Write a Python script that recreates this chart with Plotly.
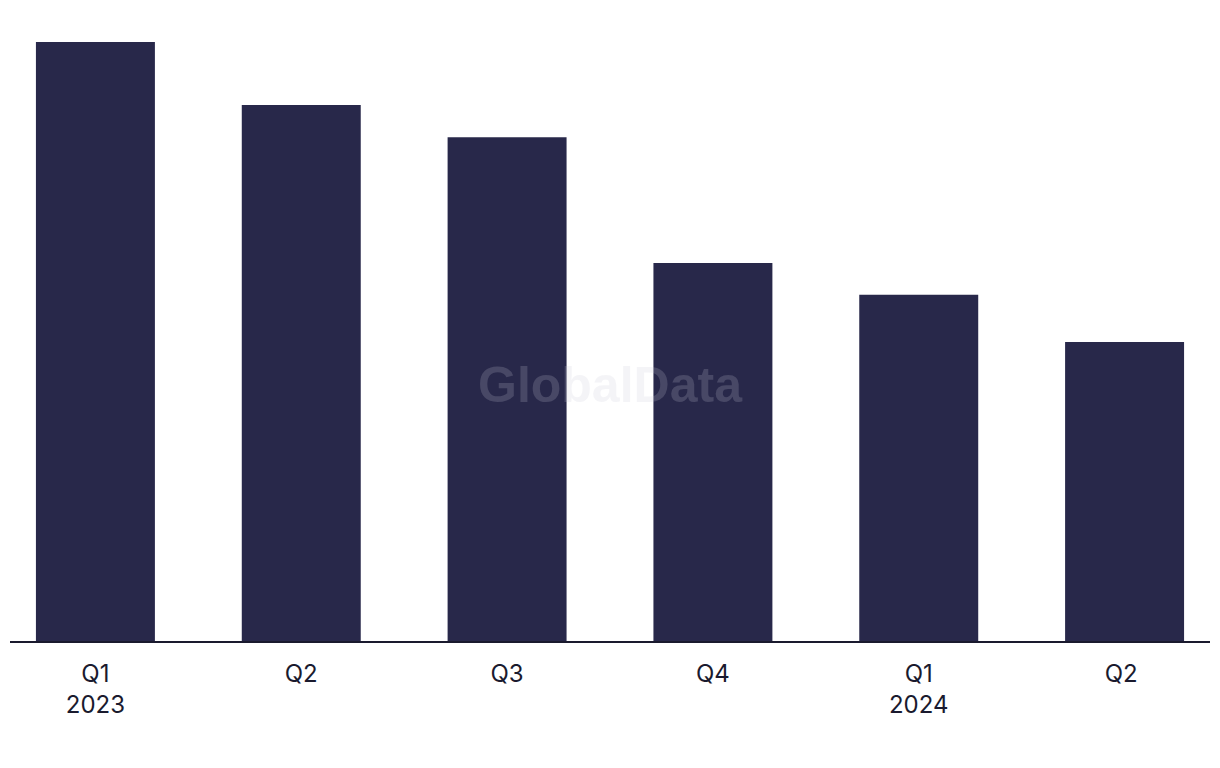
import plotly.graph_objects as go

# quarterly values (relative units)
quarters = ["Q1<br>2023", "Q2", "Q3", "Q4", "Q1<br>2024", "Q2 "]
values = [100.0, 89.5, 84.1, 63.1, 57.8, 49.9]

BAR_COLOR = "#28284a"

fig = go.Figure(
    go.Bar(
        x=quarters,
        y=values,
        marker=dict(color=BAR_COLOR, line=dict(width=0)),
        width=0.578,
        hoverinfo="skip",
    )
)

# page body adds an 8px offset, margins compensate for it
fig.update_layout(
    width=1220,
    height=768,
    margin=dict(l=2, r=18, t=22, b=135),
    plot_bgcolor="white",
    paper_bgcolor="white",
    showlegend=False,
    font=dict(family="Inter, Liberation Sans, Arial, sans-serif", color="#1a1a2e"),
    xaxis=dict(
        range=[-0.415, 5.415],
        showgrid=False,
        showline=True,
        linecolor="#1a1a2e",
        linewidth=2,
        ticks="outside",
        ticklen=10,
        tickcolor="rgba(0,0,0,0)",
        tickfont=dict(size=24, color="#1a1a2e"),
        fixedrange=True,
    ),
    yaxis=dict(
        range=[0, 102.0],
        visible=False,
        fixedrange=True,
    ),
    annotations=[
        dict(
            text="<b>GlobalData</b>",
            x=0.5,
            y=0.419,
            xref="paper",
            yref="paper",
            showarrow=False,
            font=dict(size=50, color="rgba(200,200,215,0.2)", family="Liberation Sans, Arial, sans-serif"),
        )
    ],
)

fig.write_html("out.html")
